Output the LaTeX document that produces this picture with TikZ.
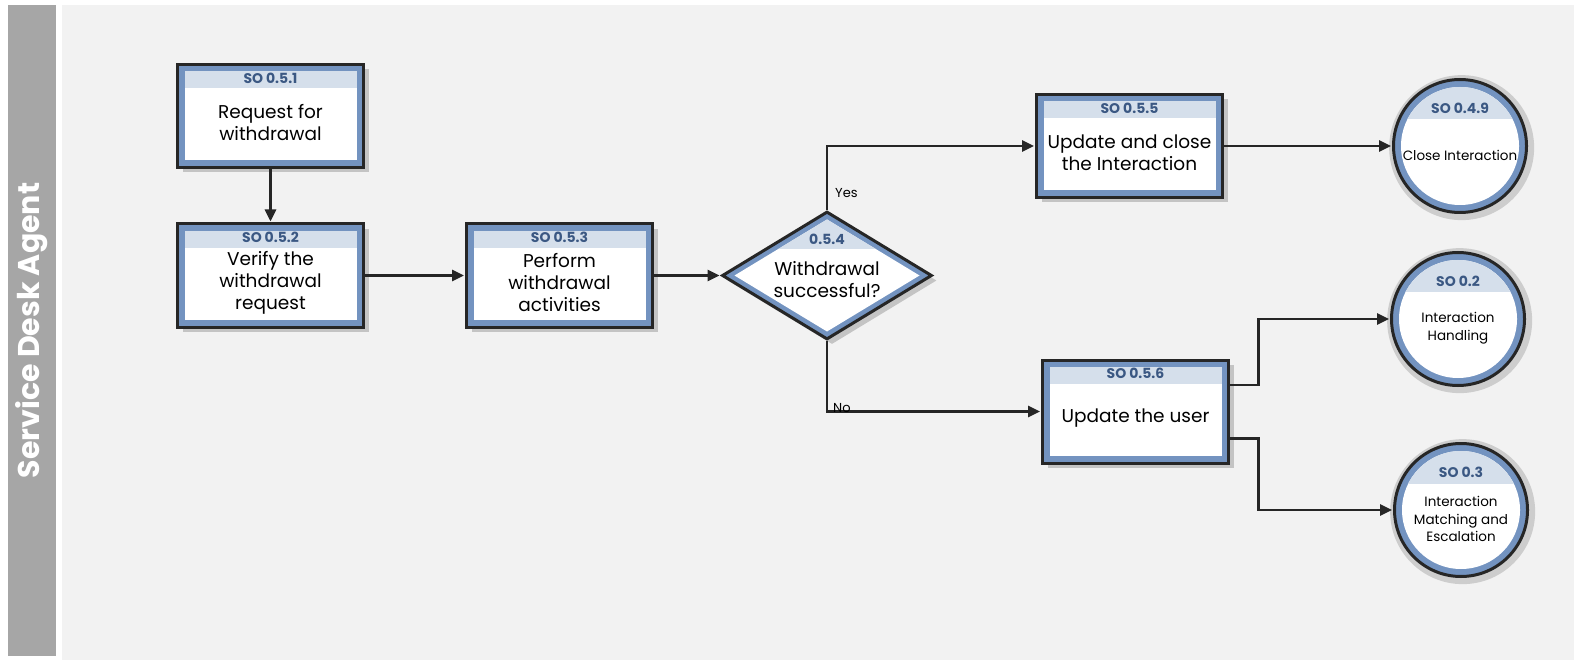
\documentclass[tikz,border=0pt]{standalone}
\usepackage{fontspec}
\setmainfont{Poppins}
\usetikzlibrary{arrows.meta,shapes.geometric,calc,shadows}

\definecolor{panelgray}{HTML}{F2F2F2}
\definecolor{lanegray}{HTML}{A6A6A6}
\definecolor{bandblue}{HTML}{7393C0}
\definecolor{headfill}{HTML}{D5DFEB}
\definecolor{headtext}{HTML}{3B5883}
\definecolor{shadowgray}{HTML}{C4C4C4}
\definecolor{halogray}{HTML}{CDCDCD}
\definecolor{linecol}{HTML}{262626}

\tikzset{
  procbox/.style={rectangle, draw=linecol, line width=3pt, fill=bandblue,
    minimum width=186pt, minimum height=103pt, inner sep=0pt,
    drop shadow={shadow xshift=5pt, shadow yshift=-5pt, fill=shadowgray, opacity=1},
    path picture={
      \coordinate (pnw) at (path picture bounding box.north west);
      \coordinate (pse) at (path picture bounding box.south east);
      \fill[white] ($(pnw)+(7,7)$) rectangle ($(pse)+(-7,-7)$);
      \fill[headfill] ($(pnw)+(7,7)$) rectangle ($(pnw -| pse)+(-7,24)$);
    }},
  decision/.style={diamond, draw=linecol, line width=3pt, fill=bandblue,
    minimum width=210pt, minimum height=128pt, inner sep=0pt,
    drop shadow={shadow xshift=5pt, shadow yshift=-5pt, fill=shadowgray, opacity=1},
    path picture={
      \coordinate (dc) at (path picture bounding box.center);
      \fill[white] ($(dc)+(-92.5,0)$) -- ($(dc)+(0,-56)$) -- ($(dc)+(92.5,0)$) -- ($(dc)+(0,56)$) -- cycle;
      \begin{scope}
        \clip ($(dc)+(-92.5,0)$) -- ($(dc)+(0,-56)$) -- ($(dc)+(92.5,0)$) -- ($(dc)+(0,56)$) -- cycle;
        \fill[headfill] ($(dc)+(-100,-60)$) rectangle ($(dc)+(100,-26)$);
      \end{scope}
    }},
  procref/.style={circle, draw=linecol, line width=3pt, fill=bandblue,
    minimum size=133pt, inner sep=0pt,
    general shadow={shadow scale=1.09, shadow xshift=1.5pt, shadow yshift=-1.5pt, fill=halogray},
    path picture={
      \coordinate (cc) at (path picture bounding box.center);
      \fill[white] (cc) circle (59);
      \begin{scope}
        \clip (cc) circle (59);
        \fill[headfill] ($(cc)+(-62,-62)$) rectangle ($(cc)+(62,-26.5)$);
      \end{scope}
    }},
  headlabel/.style={font=\fontsize{14}{15}\bfseries\selectfont, text=headtext, inner sep=0pt},
  bodytext/.style={font=\fontsize{18.5}{22}\selectfont, align=center, inner sep=0pt},
  reftext/.style={font=\fontsize{13.5}{17.5}\selectfont, align=center, inner sep=0pt},
  flowlabel/.style={font=\fontsize{13}{14}\selectfont, inner sep=0pt, anchor=west},
  flow/.style={draw=linecol, line width=2.8pt,
    -{Triangle[length=12pt,width=11pt]}, shorten >=1pt},
  lane/.style={rotate=90, fill=lanegray, minimum width=651pt, minimum height=48pt,
    inner sep=0pt, text=white, font=\fontsize{30}{32}\bfseries\selectfont},
}

\begin{document}
\begin{tikzpicture}[x=1pt, y=-1pt]
  \useasboundingbox (0,0) rectangle (1574,660);
  \fill[white] (0,0) rectangle (1574,660);
  % swimlane
  \fill[panelgray] (62,5) rectangle (1574,660);
  \node[lane] (lane) at (32,330.5) {Service Desk Agent};

  % process steps
  \node[procbox] (s1) at (270.5,116) {};
  \node[headlabel] at ($(s1.north)+(0,15)$) {SO 0.5.1};
  \node[bodytext] at ($(s1.center)+(0,7)$) {Request for\\withdrawal};

  \node[procbox] (s2) at (270.5,275.5) {};
  \node[headlabel] at ($(s2.north)+(0,15)$) {SO 0.5.2};
  \node[bodytext] at ($(s2.center)+(0,7.5)$) {Verify the\\withdrawal\\request};

  \node[procbox] (s3) at (559.5,275.5) {};
  \node[headlabel] at ($(s3.north)+(0,15)$) {SO 0.5.3};
  \node[bodytext] at ($(s3.center)+(0,7.5)$) {Perform\\withdrawal\\activities};

  \node[decision] (s4) at (827,275.5) {};
  \node[headlabel] at ($(s4.center)+(0,-36)$) {0.5.4};
  \node[bodytext] at ($(s4.center)+(0,4.5)$) {Withdrawal\\successful?};

  \node[procbox] (s5) at (1129.5,146) {};
  \node[headlabel] at ($(s5.north)+(0,15)$) {SO 0.5.5};
  \node[bodytext] at ($(s5.center)+(0,7)$) {Update and close\\the Interaction};

  \node[procbox] (s6) at (1135.5,411.5) {};
  \node[headlabel] at ($(s6.north)+(0,15)$) {SO 0.5.6};
  \node[bodytext] at ($(s6.center)+(0,7)$) {Update the user};

  % linked processes
  \node[procref] (r49) at (1460,146) {};
  \node[headlabel] at ($(r49.center)+(0,-38)$) {SO 0.4.9};
  \node[reftext] at ($(r49.center)+(0,9)$) {Close Interaction};

  \node[procref] (r2) at (1458,319) {};
  \node[headlabel] at ($(r2.center)+(0,-38)$) {SO 0.2};
  \node[reftext] at ($(r2.center)+(0,9)$) {Interaction\\Handling};

  \node[procref] (r3) at (1461,510) {};
  \node[headlabel] at ($(r3.center)+(0,-38)$) {SO 0.3};
  \node[reftext] at ($(r3.center)+(0,9)$) {Interaction\\Matching and\\Escalation};

  % connectors
  \draw[flow] (s1.south) -- (s2.north);
  \draw[flow] (s2.east) -- (s3.west);
  \draw[flow] (s3.east) -- (s4.west);
  \draw[flow] (s4.north) |- (s5.west);
  \draw[flow] (s4.south) |- (s6.west);
  \draw[flow] (s5.east) -- (r49.west);
  \draw[flow] ($(s6.east)+(0,-26.5)$) -- ++(28.5,0) |- (r2.west);
  \draw[flow] ($(s6.east)+(0,27)$) -- ++(28.5,0) |- (r3.west);

  % branch labels
  \node[flowlabel] (yes) at (835,193) {Yes};
  \node[flowlabel] (no) at (833,408) {No};
\end{tikzpicture}
\end{document}
